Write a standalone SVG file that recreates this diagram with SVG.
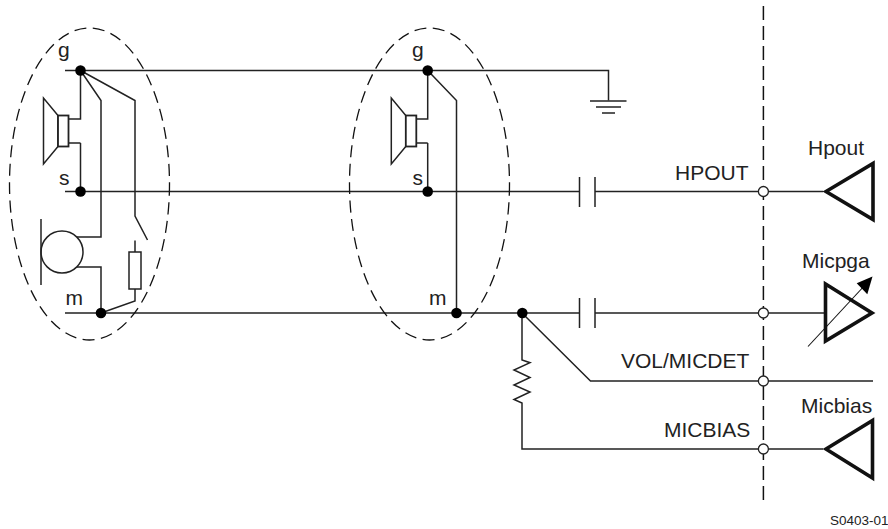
<svg xmlns="http://www.w3.org/2000/svg" width="888" height="529" viewBox="0 0 888 529">
<style>
text{font-family:"Liberation Sans",Arial,sans-serif;font-size:21px;fill:#222}
.w{fill:none;stroke:#222;stroke-width:1.5}
.d{fill:#000;stroke:none}
.o{fill:#fff;stroke:#222;stroke-width:1.3}
.t{fill:none;stroke:#111;stroke-width:3.600;stroke-miterlimit:6}
.e{fill:none;stroke:#111;stroke-width:1.3;stroke-dasharray:12 6.500}
.b{fill:none;stroke:#111;stroke-width:1.500;stroke-dasharray:14 6}
</style>
<defs>
<g id="spk"><path class="w" d="M0 0V66L14.500 48.500V17.500Z"/><rect x="14.500" y="17.500" width="10.500" height="31" fill="#fff" stroke="#222" stroke-width="1.800"/></g>
</defs>
<g id="boundary"><path class="b" d="M763.400 6V500"/></g>
<g id="connectors">
<path class="w" d="M65 70.500H608.500V100.500"/>
<path class="w" d="M65 191.500H579.500M595 191.500H823"/>
<path class="w" d="M65 313H579.500M595 313H825"/>
<path class="w" d="M522 313L590.500 381H873"/>
<path class="w" d="M522 313V360L530 362.700L514 370L530 377.500L514 385L530 392L514 399.500L522 403V449H823"/>
<path class="w" d="M80.500 70.500V119H68M80.500 143H68M80.500 143V191.500"/>
<path class="w" d="M80.500 70.500L101 100.500V237H77M77 267H101V313"/>
<path class="w" d="M80.500 70.500L135 100.500V216L147.500 240"/>
<path class="w" d="M135 240.500V252M135 289V301L101 313"/>
<path class="w" d="M427.700 70.500V119H416M427.700 143H416M427.700 143V191.500"/>
<path class="w" d="M427.700 70.500L456.500 100.500V313"/>
</g>
<g id="left-ellipse"><ellipse class="e" cx="89.500" cy="184" rx="80" ry="156"/></g>
<g id="right-ellipse"><ellipse class="e" cx="429.500" cy="184" rx="80" ry="156"/></g>
<g id="speaker-left"><use href="#spk" x="43.500" y="98"/></g>
<g id="speaker-right"><use href="#spk" x="391.300" y="98"/></g>
<g id="mic"><circle cx="62" cy="252" r="21" fill="#fff" stroke="#222" stroke-width="1.500"/><path class="w" d="M41 219V285"/></g>
<g id="load-resistor"><rect x="129" y="252" width="12" height="37" fill="#fff" stroke="#222" stroke-width="1.500"/></g>
<g id="ground"><path class="w" d="M590 101H626.500M596 107H621M602 113H615"/></g>
<g id="cap-hp"><path class="w" d="M579.500 177V207M595 177V207"/></g>
<g id="cap-mic"><path class="w" d="M579.500 298V328M595 298V328"/></g>
<g id="dots">
<circle class="d" cx="80.500" cy="70.500" r="5.300"/><circle class="d" cx="80.500" cy="191.500" r="5.300"/><circle class="d" cx="101" cy="313" r="5.300"/>
<circle class="d" cx="427.700" cy="70.500" r="5.300"/><circle class="d" cx="427.700" cy="191.500" r="5.300"/><circle class="d" cx="456.500" cy="313" r="5.300"/><circle class="d" cx="522.300" cy="313" r="5.300"/>
<circle class="o" cx="763.400" cy="191.500" r="5"/><circle class="o" cx="763.400" cy="313" r="5"/><circle class="o" cx="763.400" cy="381" r="5"/><circle class="o" cx="763.400" cy="449" r="5"/>
</g>
<g id="hpout"><path class="t" d="M826 191.500L873 163.500V219.500Z"/><text x="808" y="155">Hpout</text></g>
<g id="micpga"><path class="t" d="M825.500 284V341L872 313Z"/><path d="M808 346.500L866 284" stroke="#111" stroke-width="1.100" fill="none"/><path d="M872.500 276.500L867.300 294.300L856.700 283.300Z" fill="#000"/><text x="802" y="268">Micpga</text></g>
<g id="micbias"><path class="t" d="M826 449L872.500 420.500V478Z"/><text x="801" y="413">Micbias</text></g>
<g id="labels">
<text x="58" y="57">g</text><text x="59" y="185">s</text><text x="65.500" y="305">m</text>
<text x="412" y="57">g</text><text x="412.500" y="185">s</text><text x="429" y="305">m</text>
<text x="675" y="179.500">HPOUT</text><text x="621" y="368">VOL/MICDET</text><text x="664" y="436.500">MICBIAS</text>
<text x="830" y="525" style="font-size:13.500px">S0403-01</text>
</g>
</svg>
